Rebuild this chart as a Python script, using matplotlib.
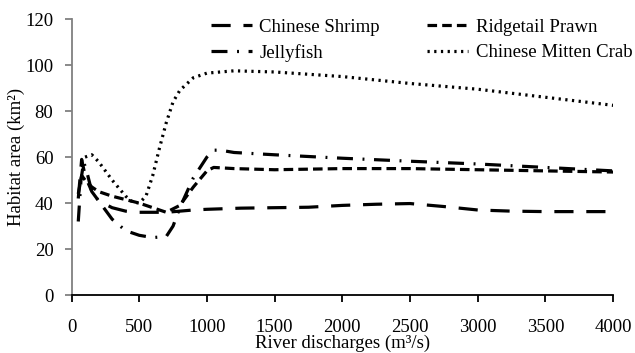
import matplotlib
matplotlib.use("Agg")
import matplotlib.pyplot as plt

plt.rcParams['font.family'] = ['Liberation Serif', 'DejaVu Serif']

# river discharge (m3/s) and habitat area (km2)
x_shrimp = [50, 75, 100, 150, 200, 300, 400, 500, 600, 700, 800, 900, 1000, 1250,
            1500, 1750, 2000, 2250, 2500, 2750, 3000, 3250, 3500, 3750, 4000]
y_shrimp = [42, 59, 52, 45, 41, 38, 36.5, 36, 36, 36, 36.5, 37, 37.3, 37.8,
            38, 38.2, 39, 39.5, 39.8, 38.5, 37, 36.5, 36.3, 36.3, 36.3]

x_prawn = [50, 75, 100, 150, 200, 300, 400, 500, 600, 700, 800, 900, 1000, 1050,
           1200, 1500, 2000, 2500, 3000, 3500, 4000]
y_prawn = [44, 52, 50, 47, 45, 43, 41.5, 40, 38, 36, 39, 47, 54, 55.5,
           55, 54.5, 55, 55, 54.5, 54, 53.5]

x_jelly = [50, 70, 90, 120, 150, 200, 300, 400, 500, 600, 700, 750, 800, 900,
           1000, 1050, 1100, 1200, 1500, 2000, 2500, 3000, 3500, 4000]
y_jelly = [32, 50, 58, 52, 45, 41, 33, 28, 26, 25, 25.5, 30, 38, 51,
           60, 63, 63, 62, 61, 59.5, 58.2, 57, 55.5, 54]

x_crab = [100, 150, 200, 300, 400, 450, 500, 550, 600, 650, 700, 750, 800, 900,
          1000, 1200, 1500, 2000, 2500, 3000, 3500, 4000]
y_crab = [60, 61, 58, 50, 43, 40.5, 40, 43, 52, 64, 75, 84, 89, 94.5,
          96.5, 97.5, 97, 95, 92, 89.5, 86, 82.5]

x_ticks = [0, 500, 1000, 1500, 2000, 2500, 3000, 3500, 4000]
y_ticks = [0, 20, 40, 60, 80, 100, 120]

fs = 13.5
fig = plt.figure(figsize=(6.35, 3.53), dpi=100)
ax = fig.add_axes([0.1126, 0.164, 0.853, 0.782])

lw = 2.3
l1, = ax.plot(x_shrimp, y_shrimp, color='black', lw=lw, dashes=(6, 4), label='Chinese Shrimp')
l2, = ax.plot(x_prawn, y_prawn, color='black', lw=lw, dashes=(3, 1.6), label='Ridgetail Prawn')
l3, = ax.plot(x_jelly, y_jelly, color='black', lw=lw, dashes=(5, 3, 0.6, 3), label='Jellyfish')
l4, = ax.plot(x_crab, y_crab, color='black', lw=lw, dashes=(0.7, 1.4), label='Chinese Mitten Crab')

ax.set_xlim(0, 4000)
ax.set_ylim(0, 120)
ax.set_xticks(x_ticks)
ax.set_yticks(y_ticks)

for s in ['top', 'right']:
    ax.spines[s].set_visible(False)
ax.spines['left'].set_color('#808080')
ax.spines['left'].set_linewidth(1.3)
ax.spines['bottom'].set_linewidth(1.3)
ax.tick_params(axis='y', direction='out', length=5, width=1.3, color='#808080', pad=8, labelsize=fs)
ax.tick_params(axis='x', direction='out', length=5, width=1.3, pad=12, labelsize=fs)

ax.set_xlabel('River discharges (m³/s)', fontsize=fs, labelpad=-1)
ax.set_ylabel('Habitat area (km²)', fontsize=fs, labelpad=0.5)

# row-wise order: shrimp, prawn / jellyfish, crab
fig.legend([l1, l3, l2, l4], [l1.get_label(), l3.get_label(), l2.get_label(), l4.get_label()],
           loc='upper left', bbox_to_anchor=(0.311, 0.985), ncol=2, frameon=False,
           fontsize=fs, handlelength=2.2, handletextpad=0.4, columnspacing=2.5,
           labelspacing=0.45, borderpad=0.2)

fig.savefig('out.png', dpi=100)
